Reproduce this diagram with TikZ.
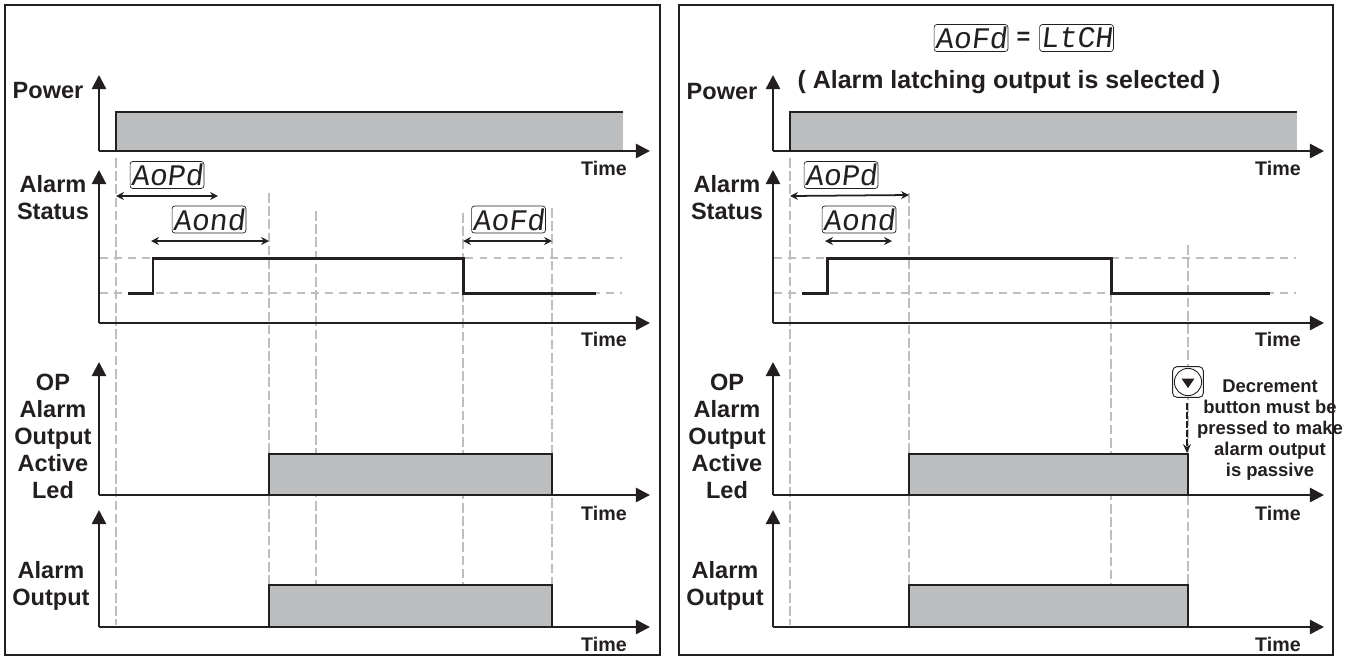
\documentclass[tikz,border=0pt]{standalone}
\usepackage{fontspec}
\setmainfont{Liberation Sans}
\newfontfamily\segfont[FakeSlant=0.12]{Liberation Mono}
\usetikzlibrary{arrows.meta,positioning}
\definecolor{ink}{HTML}{231F20}
\definecolor{pale}{HTML}{BCBEC0}
\tikzset{
  axis/.style={ink,line width=1.4pt,-{Triangle[length=8pt,width=8pt]}},
  pulse/.style={ink,line width=1.4pt,fill=pale},
  signal/.style={ink,line width=1.7pt},
  vdash/.style={pale,line width=1.2pt,dash pattern=on 5.5pt off 2pt},
  hdash/.style={pale,line width=1.2pt,dash pattern=on 4.5pt off 3.5pt},
  span/.style={ink,line width=1pt,{Stealth[length=4.5pt,width=4.5pt]}-{Stealth[length=4.5pt,width=4.5pt]}},
  frame/.style={ink,line width=1.4pt},
  lab/.style={font=\bfseries\fontsize{13.4}{15.3}\selectfont,text=ink,align=center,inner sep=0pt},
  timelab/.style={font=\bfseries\fontsize{11.2}{13}\selectfont,text=ink,inner sep=0pt},
  seg/.style={draw=ink,line width=.4pt,rounded corners=1.5pt,minimum width=42pt,minimum height=15.3pt,
              inner sep=0pt,text=ink,font=\segfont\fontsize{17}{15}\selectfont},
}
\begin{document}
\begin{tikzpicture}[x=0.02cm,y=-0.02cm]
  \useasboundingbox (0,0) rectangle (1358,657);

  % frames
  \draw[frame] (5,5) rectangle (660,655);
  \draw[frame] (679,5) rectangle (1333,655);

  % dashed guides
  \foreach \x/\a/\b in {116/158/625, 269/193/585, 316/211/585, 463/213/585, 552/208/625,
                        790/158/625, 909/193/585, 1111/293/585, 1188/245/625}
    \draw[vdash] (\x,\a) -- (\x,\b);
  \foreach \dx in {0,674} {
    \draw[hdash] (100+\dx,258) -- (622+\dx,258);
    \draw[hdash] (100+\dx,293) -- (622+\dx,293);
  }

  % what both panels have
  \foreach \p/\dx in {l/0,r/674} {
    \coordinate (po\p) at (99+\dx,151);
    \coordinate (st\p) at (99+\dx,323);
    \coordinate (op\p) at (99+\dx,495);
    \coordinate (ou\p) at (99+\dx,627);

    \fill[pale] (116+\dx,112) rectangle (623+\dx,151);
    \draw[ink,line width=1.4pt] (116+\dx,151) -- (116+\dx,112) -- (623+\dx,112);

    \draw[axis] (po\p) -- (99+\dx,75);
    \draw[axis] (po\p) -- (650+\dx,151);
    \draw[axis] (st\p) -- (99+\dx,170);
    \draw[axis] (st\p) -- (650+\dx,323);
    \draw[axis] (op\p) -- (99+\dx,362);
    \draw[axis] (op\p) -- (650+\dx,495);
    \draw[axis] (ou\p) -- (99+\dx,510);
    \draw[axis] (ou\p) -- (650+\dx,627);

    \node[timelab] (tp\p) at (604+\dx,168) {Time};
    \node[timelab] (ts\p) at (604+\dx,339) {Time};
    \node[timelab] (to\p) at (604+\dx,513) {Time};
    \node[timelab] (tu\p) at (604+\dx,644) {Time};

    \node[seg] (aopd\p) at (167+\dx,175) {AoPd};
    \coordinate (aopdl\p) at (116+\dx,196);
  }

  \node[lab] (powerl) at (48,91) {Power};
  \node[lab] (statusl) at (53,197.5) {Alarm\\Status};
  \node[lab] (ledl) at (53,436.5) {OP\\Alarm\\Output\\Active\\Led};
  \node[lab] (outl) at (51,585.5) {Alarm\\Output};
  \node[lab] (powerr) at (722,92) {Power};
  \node[lab] (statusr) at (727,198) {Alarm\\Status};
  \node[lab] (ledr) at (727,436.5) {OP\\Alarm\\Output\\Active\\Led};
  \node[lab] (outr) at (725,585.5) {Alarm\\Output};

  % left panel
  \draw[signal] (128,293) -- (153,293) -- (153,258) -- (463,258) -- (463,293) -- (596,293);
  \draw[pulse] (269,495) rectangle (552,454);
  \draw[pulse] (269,627) rectangle (552,585);
  \draw[span] (aopdll) -- (218,196);
  \node[seg] (aondl) at (209,219.5) {Aond};
  \draw[span] (151,241) -- (269,241);
  \node[seg] (aofdl) at (508.5,219.5) {AoFd};
  \draw[span] (463,241) -- (552,241);

  % right panel
  \draw[signal] (802,293) -- (827,293) -- (827,258) -- (1111,258) -- (1111,293) -- (1270,293);
  \draw[pulse] (909,495) rectangle (1188,454);
  \draw[pulse] (909,627) rectangle (1188,585);
  \draw[span] (aopdlr) -- (909,195);
  \node[seg] (aondr) at (859,219.5) {Aond};
  \draw[span] (825,241) -- (892,241);

  \node[seg] (aofdt) at (971,38) {AoFd};
  \node[seg] (ltch) at (1076.5,38) {LtCH};
  \node[lab] (eq) at (1023.5,38) {=};
  \node[lab,font=\bfseries\fontsize{14.2}{16}\selectfont] (title) at (1009,82) {( Alarm latching output is selected )};

  % decrement button
  \node[draw=ink,line width=.5pt,fill=white,rounded corners=2.5pt,minimum size=17.5pt,inner sep=0pt] (btn) at (1188,382) {};
  \node[draw=ink,line width=.5pt,fill=white,circle,minimum size=15.5pt,inner sep=0pt] (ring) at (btn.center) {};
  \fill[ink] (1181.5,378.5) -- (1194.5,378.5) -- (1188,388) -- cycle;
  \coordinate (press) at (1187,453);
  \draw[ink,line width=.8pt,dash pattern=on 4pt off 1.2pt,-{Stealth[length=5pt,width=4.5pt]}] (btn.south) ++(-1,5) -- (press);
  \node[lab,font=\bfseries\fontsize{10.5}{11.9}\selectfont] (note) at (1270,430) {Decrement\\button must be\\pressed to make\\alarm output\\is passive};
\end{tikzpicture}
\end{document}
